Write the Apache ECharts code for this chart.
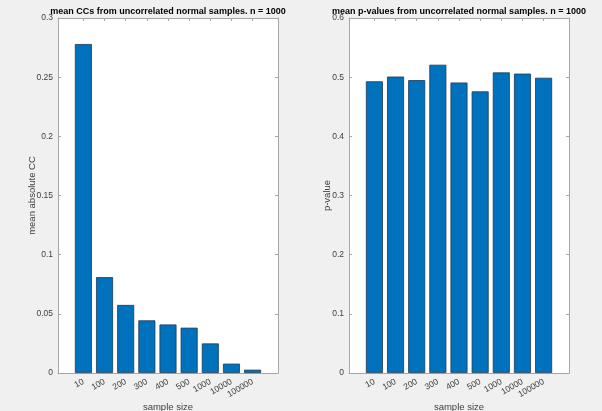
<!DOCTYPE html>
<html>
<head>
<meta charset="utf-8">
<script src="https://cdn.jsdelivr.net/npm/echarts@6/dist/echarts.min.js"></script>
<style>
html,body{margin:0;padding:0;background:#f0f0f0;}
#c{width:602px;height:411px;}
</style>
</head>
<body>
<div id="c"></div>
<script>
var categories = ['10','100','200','300','400','500','1000','10000','100000'];
var ccValues = [0.278, 0.081, 0.0575, 0.0445, 0.041, 0.0383, 0.025, 0.0079, 0.0028];
var pValues = [0.493, 0.501, 0.495, 0.521, 0.491, 0.476, 0.508, 0.506, 0.499];
var ccTicks = [0, 0.3, 0.05];
var pTicks = [0, 0.6, 0.1];
var titles = ['mean CCs from uncorrelated normal samples. n = 1000',
              'mean p-values from uncorrelated normal samples. n = 1000'];

var idx = categories.map(function(c,i){return i;});
var axisCol = '#a6a6a6';
var txtCol = '#404040';
var font = 'Liberation Sans, Arial, sans-serif';

function xAxes(gi){
  var base = {
    type:'value', gridIndex:gi, min:-1.2, max:9.2,
    splitLine:{show:false},
    axisLine:{show:true, onZero:false, lineStyle:{color:axisCol, width:1}},
    axisTick:{show:true, inside:true, length:3, customValues:idx, lineStyle:{color:axisCol}},
  };
  var bottom = Object.assign({}, base, {
    position:'bottom',
    axisLabel:{show:true, customValues:idx, rotate:30, color:txtCol, fontSize:8.5, fontFamily:font, margin:8,
      formatter:function(v){return categories[Math.round(v)];}},
    name:'sample size', nameLocation:'middle', nameGap:29, nameMoveOverlap:false,
    nameTextStyle:{color:txtCol, fontSize:9.5, fontFamily:font}
  });
  var top = Object.assign({}, base, {position:'top', axisLabel:{show:false}});
  return [bottom, top];
}
function yAxes(gi, t, name, gap){
  var base = {
    type:'value', gridIndex:gi, min:t[0], max:t[1], interval:t[2],
    splitLine:{show:false},
    axisLine:{show:true, onZero:false, lineStyle:{color:axisCol, width:1}},
    axisTick:{show:true, inside:true, length:3, lineStyle:{color:axisCol}}
  };
  var left = Object.assign({}, base, {
    position:'left',
    axisLabel:{show:true, color:txtCol, fontSize:8.5, fontFamily:font, margin:5},
    name:name, nameLocation:'middle', nameGap:gap, nameMoveOverlap:false,
    nameTextStyle:{color:txtCol, fontSize:9.5, fontFamily:font}
  });
  var right = Object.assign({}, base, {position:'right', axisLabel:{show:false}});
  return [left, right];
}

var xa = xAxes(0).concat(xAxes(1));
var ya = yAxes(0, ccTicks, 'mean absolute CC', 21).concat(yAxes(1, pTicks, 'p-value', 17));

function barSeries(xi, yi, vals){
  return {
    type:'bar', xAxisIndex:xi, yAxisIndex:yi,
    data: vals.map(function(v,i){return [i, v];}),
    barWidth:17,
    itemStyle:{color:'#0072BD', borderColor:'#1a3a55', borderWidth:0.8},
    silent:true
  };
}

var chart = echarts.init(document.getElementById('c'), null, {renderer:'canvas'});
chart.setOption({
  backgroundColor:'#f0f0f0',
  animation:false,
  graphic:[
    {type:'text', x:168, y:12, style:{text:titles[0], align:'center', verticalAlign:'middle',
      font:'bold 9px Liberation Sans, Arial, sans-serif', fill:'#000'}},
    {type:'text', x:459, y:12, style:{text:titles[1], align:'center', verticalAlign:'middle',
      font:'bold 9px Liberation Sans, Arial, sans-serif', fill:'#000'}}
  ],
  grid:[
    {left:58, right:324, top:18, bottom:38, show:true, backgroundColor:'#ffffff', borderWidth:0, outerBoundsMode:'none', containLabel:false},
    {left:349, right:33, top:18, bottom:38, show:true, backgroundColor:'#ffffff', borderWidth:0, outerBoundsMode:'none', containLabel:false}
  ],
  xAxis: xa,
  yAxis: ya,
  series:[barSeries(0,0,ccValues), barSeries(2,2,pValues)]
});
</script>
</body>
</html>
